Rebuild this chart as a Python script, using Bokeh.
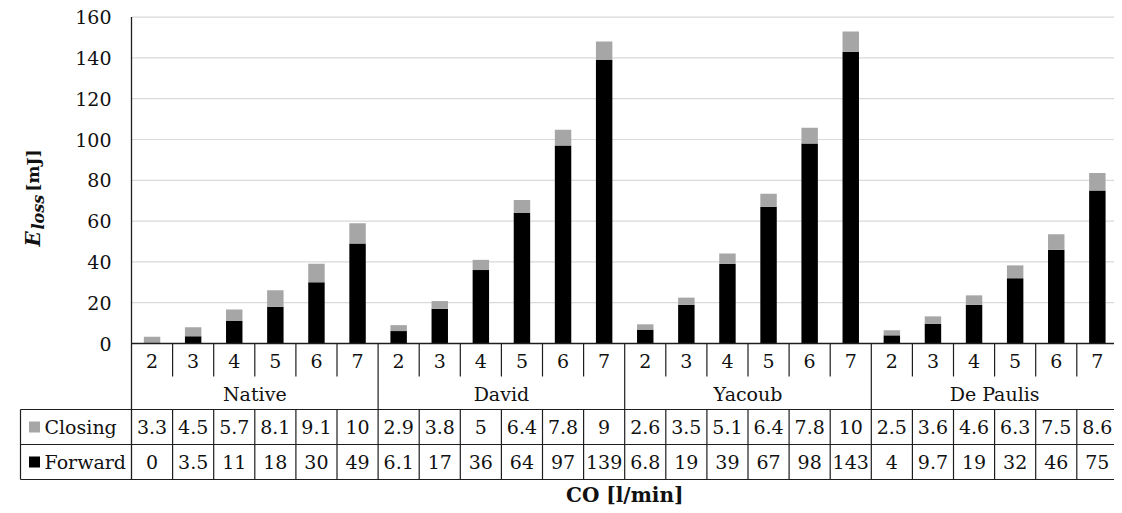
import numpy as np
from bokeh.plotting import figure
from bokeh.models import Range1d, ColumnDataSource
from bokeh.core.properties import value
from bokeh.embed import file_html
from bokeh.resources import INLINE

# ---------------- data ----------------
groups = ["Native", "David", "Yacoub", "De Paulis"]
co_values = ["2", "3", "4", "5", "6", "7"]
forward = [0, 3.5, 11, 18, 30, 49,
           6.1, 17, 36, 64, 97, 139,
           6.8, 19, 39, 67, 98, 143,
           4, 9.7, 19, 32, 46, 75]
closing = [3.3, 4.5, 5.7, 8.1, 9.1, 10,
           2.9, 3.8, 5, 6.4, 7.8, 9,
           2.6, 3.5, 5.1, 6.4, 7.8, 10,
           2.5, 3.6, 4.6, 6.3, 7.5, 8.6]
series_names = ["Closing", "Forward"]
series_colors = ["#a6a6a6", "#000000"]
y_ticks = [0, 20, 40, 60, 80, 100, 120, 140, 160]
x_title = "CO [l/min]"
y_title_parts = ["E", "loss", "[mJ]"]

# ---------------- layout constants (figure pixels) ----------------
PX0 = 131.0      # pixel of x = 0
COLW = 41.1      # pixels per category column
PY0 = 343.0      # pixel of y = 0
PPU = 2.04       # pixels per mJ
W, H = 1114, 505

def xs(px):
    return (px - PX0) / COLW

def ys(py):
    return (PY0 - py) / PPU

FONT = value("DejaVu Serif")
FS = "19px"
TXT = "#111111"
LINE = "#1e1e1e"

n_per = len(co_values)
n = n_per * len(groups)
xc = [i + 0.5 for i in range(n)]

p = figure(width=W, height=H, output_backend="svg", toolbar_location=None,
           x_axis_location=None, y_axis_location=None,
           x_range=Range1d(xs(0), xs(W)),
           y_range=Range1d(ys(H), ys(0)),
           min_border=0, tools="")
p.title.visible = False
p.outline_line_color = None
p.grid.visible = False
p.background_fill_color = "white"
p.border_fill_color = "white"

# gridlines
gl = [t for t in y_ticks if t > 0]
p.segment(x0=[0] * len(gl), x1=[n] * len(gl), y0=gl, y1=gl,
          line_color="#d9d9d9", line_width=1.2)

# bars
src = ColumnDataSource(dict(x=xc, Forward=forward, Closing=closing))
p.vbar_stack(["Forward", "Closing"], x="x", width=0.4, source=src,
             color=[series_colors[1], series_colors[0]], line_color=None)

# axis line (y=0) and left vertical line
p.segment(x0=[0], x1=[n], y0=[0], y1=[0], line_color=LINE, line_width=1.3)
p.segment(x0=[0], x1=[0], y0=[max(y_ticks)], y1=[ys(479)], line_color=LINE, line_width=1.3)

# y tick labels
p.text(x=[0] * len(y_ticks), y=y_ticks, text=[str(t) for t in y_ticks],
       x_offset=-20, text_align="right", text_baseline="middle",
       text_font=FONT, text_font_size=FS, text_color=TXT)

# category separators
minor = [i for i in range(1, n) if i % n_per != 0]
p.segment(x0=minor, x1=minor, y0=[0] * len(minor), y1=[ys(376)] * len(minor),
          line_color=LINE, line_width=1.2)
major = [i for i in range(n_per, n + 1, n_per)]
p.segment(x0=major, x1=major, y0=[0] * len(major), y1=[ys(479)] * len(major),
          line_color=LINE, line_width=1.2)

# category labels
p.text(x=xc, y=[ys(360.5)] * n, text=co_values * len(groups),
       text_align="center", text_baseline="middle",
       text_font=FONT, text_font_size=FS, text_color=TXT)
gx = [g * n_per + n_per / 2 for g in range(len(groups))]
p.text(x=gx, y=[ys(393)] * len(groups), text=groups,
       text_align="center", text_baseline="middle",
       text_font=FONT, text_font_size=FS, text_color=TXT)

# data table
tl = xs(20)
rows_py = [409, 444, 479]
p.segment(x0=[tl] * 3, x1=[n] * 3, y0=[ys(v) for v in rows_py], y1=[ys(v) for v in rows_py],
          line_color=LINE, line_width=1.2)
p.segment(x0=[tl], x1=[tl], y0=[ys(409)], y1=[ys(479)], line_color=LINE, line_width=1.2)
p.segment(x0=minor, x1=minor, y0=[ys(409)] * len(minor), y1=[ys(479)] * len(minor),
          line_color=LINE, line_width=1.2)

row_cy = [ys(426.5), ys(461.5)]
row_vals = [closing, forward]
for k in range(2):
    p.scatter(x=[xs(34)], y=[row_cy[k]], marker="square", size=11,
              fill_color=series_colors[k], line_color=None)
    p.text(x=[xs(44)], y=[row_cy[k]], text=[series_names[k]],
           text_align="left", text_baseline="middle",
           text_font=FONT, text_font_size=FS, text_color=TXT)
    p.text(x=xc, y=[row_cy[k]] * n, text=[f"{v:g}" for v in row_vals[k]],
           text_align="center", text_baseline="middle",
           text_font=FONT, text_font_size=FS, text_color=TXT)

# axis titles
p.text(x=[n / 2], y=[ys(494)], text=[x_title], text_align="center", text_baseline="middle",
       text_font=FONT, text_font_size="20px", text_font_style="bold", text_color=TXT)

p.text(x=[xs(32)], y=[ys(246)], text=[y_title_parts[0]], angle=np.pi / 2,
       text_align="left", text_baseline="alphabetic",
       text_font=FONT, text_font_size="20px", text_font_style="bold italic", text_color=TXT)
p.text(x=[xs(37.5)], y=[ys(229)], text=[y_title_parts[1]], angle=np.pi / 2,
       text_align="left", text_baseline="alphabetic",
       text_font=FONT, text_font_size="16px", text_font_style="bold italic", text_color=TXT)
p.text(x=[xs(32)], y=[ys(191)], text=[y_title_parts[2]], angle=np.pi / 2,
       text_align="left", text_baseline="alphabetic",
       text_font=FONT, text_font_size="17px", text_font_style="bold", text_color=TXT)

open("out.html", "w").write(file_html(p, INLINE))
